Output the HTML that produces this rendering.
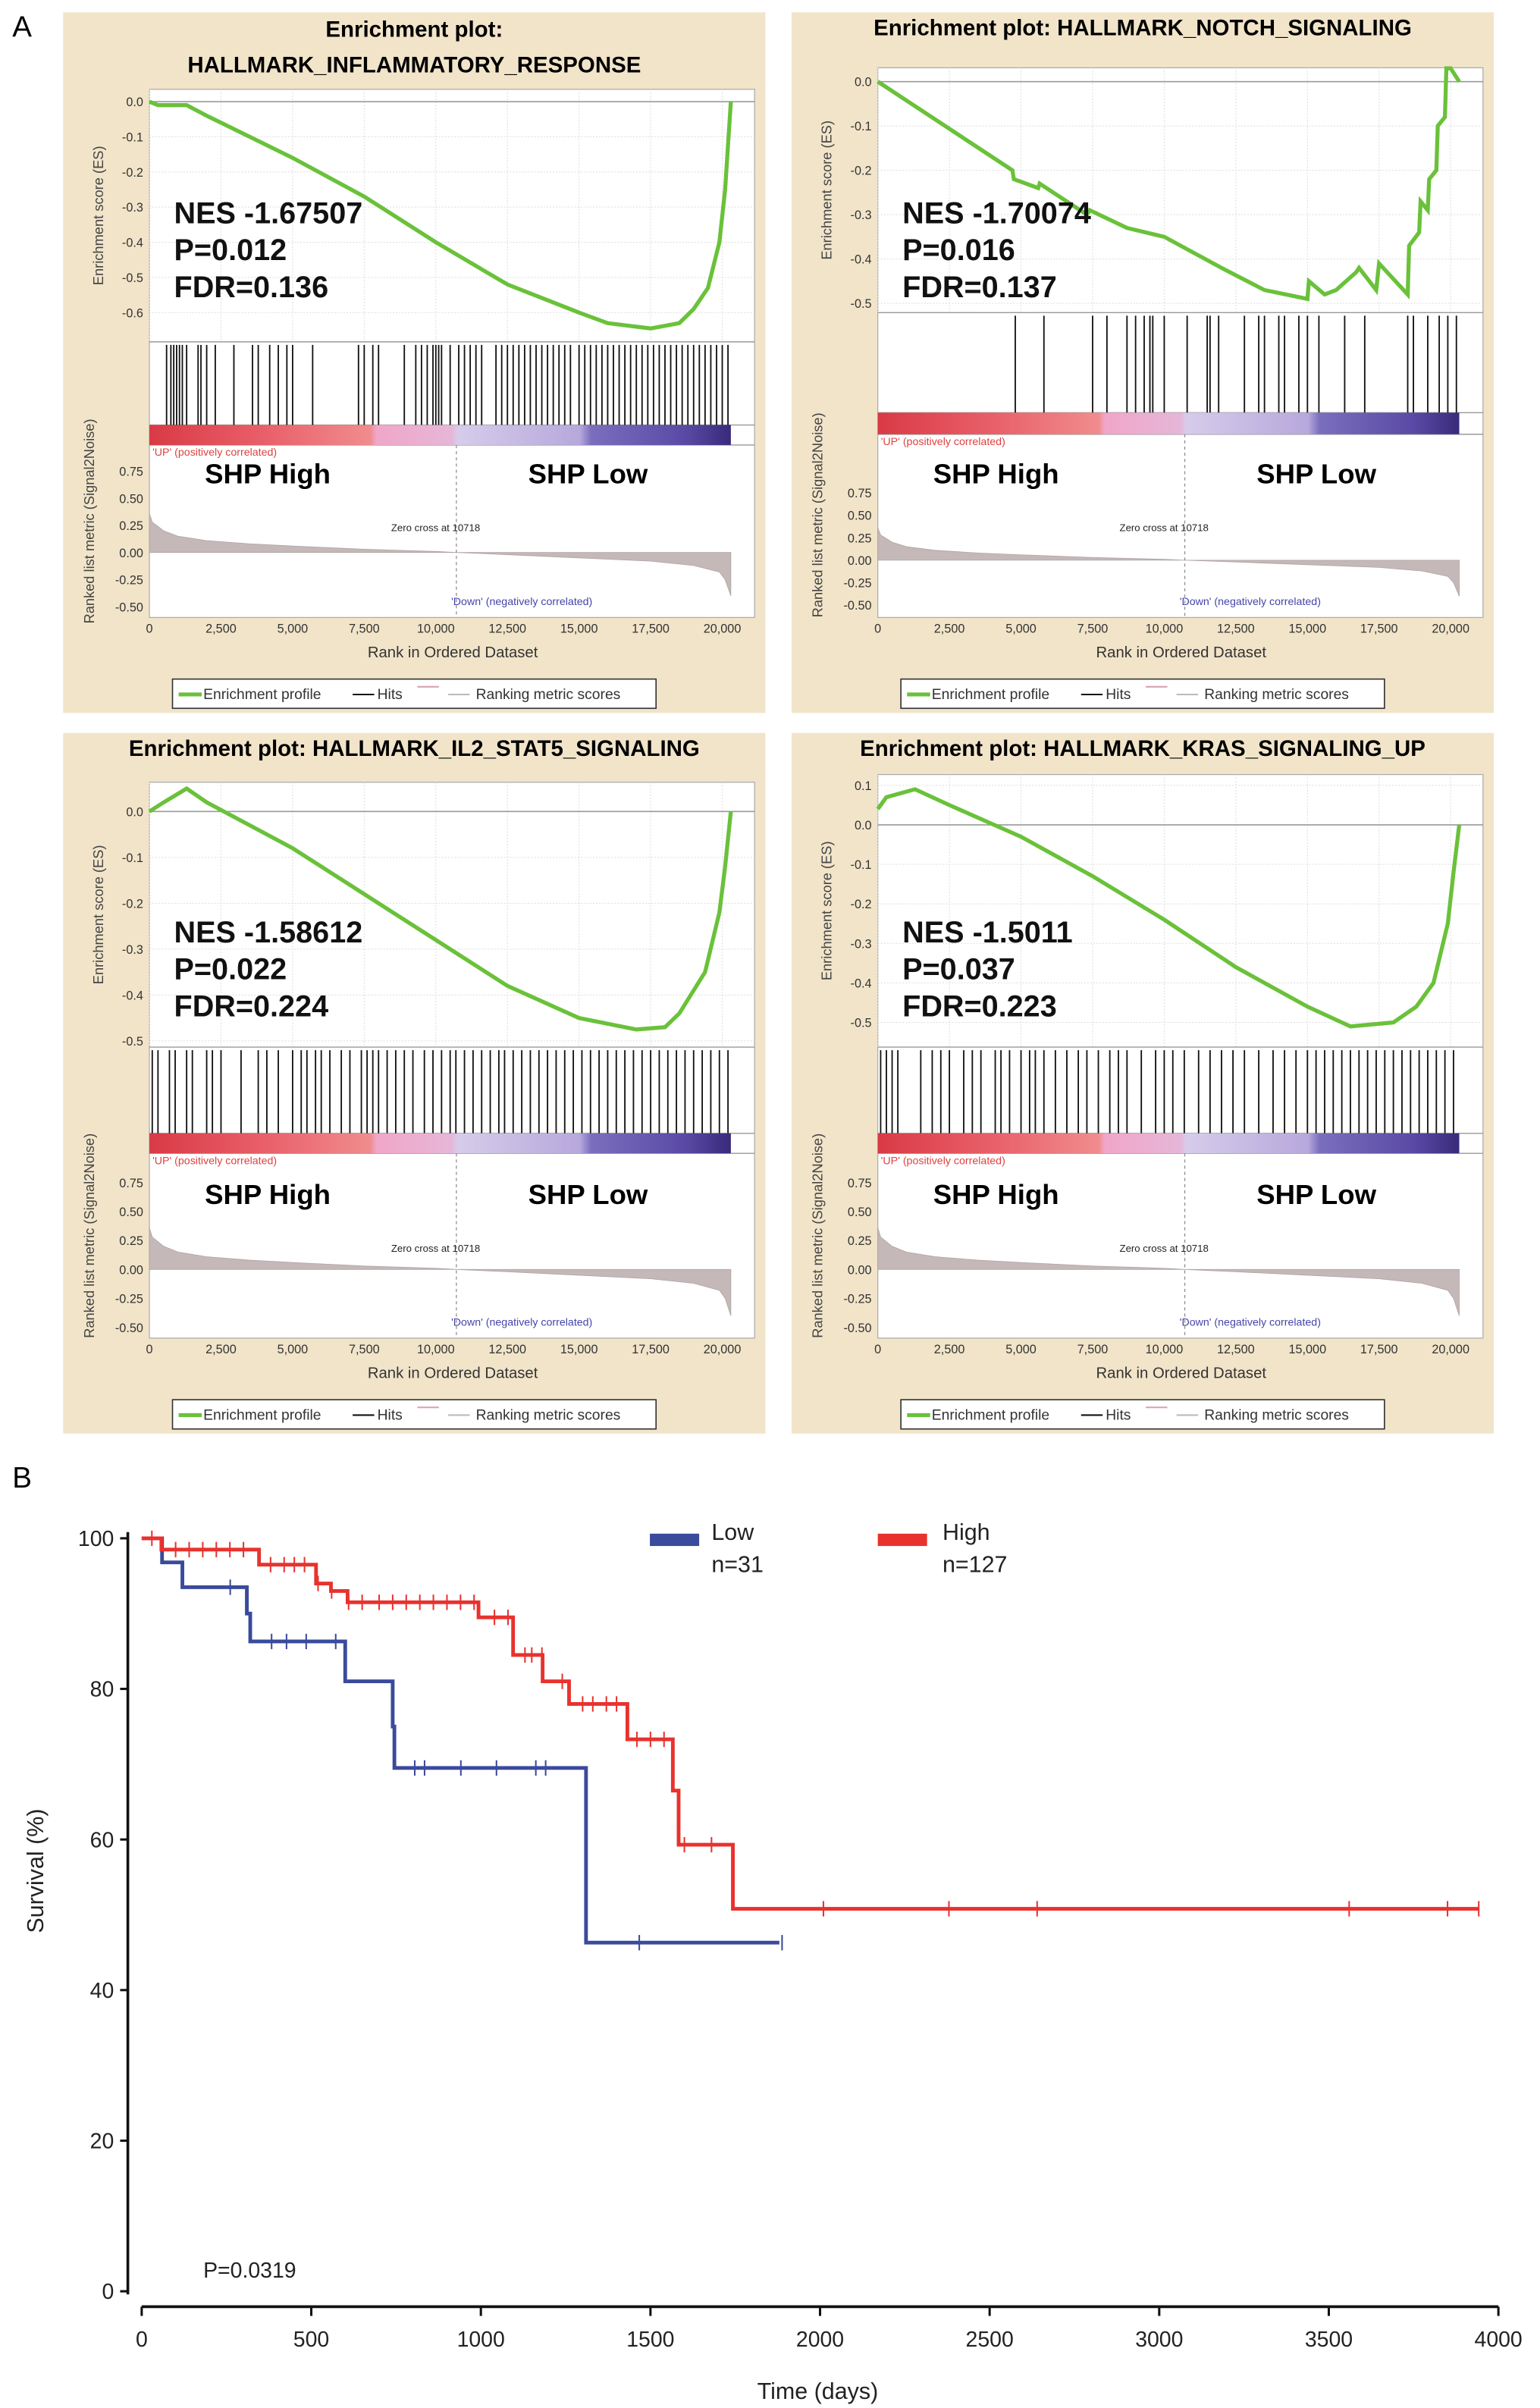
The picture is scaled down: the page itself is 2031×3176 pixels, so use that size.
<!DOCTYPE html>
<html><head><meta charset="utf-8"><style>
html,body{margin:0;padding:0;background:#fff}
svg{display:block}
text{font-family:"Liberation Sans",Arial,sans-serif}
</style></head><body>
<svg id="fig" width="2031" height="3176" viewBox="0 0 1000 1563.8" xmlns="http://www.w3.org/2000/svg">
<defs>
<linearGradient id="rankbar" x1="0" x2="1" y1="0" y2="0">
<stop offset="0" stop-color="#d93a45"/><stop offset="0.2" stop-color="#e9606a"/><stop offset="0.38" stop-color="#f08c8c"/>
<stop offset="0.39" stop-color="#f0a6c8"/><stop offset="0.52" stop-color="#e6b6d8"/><stop offset="0.53" stop-color="#d6ccea"/>
<stop offset="0.74" stop-color="#b7a8dc"/><stop offset="0.76" stop-color="#7a6ebd"/><stop offset="0.92" stop-color="#5a4aa6"/><stop offset="1" stop-color="#3a2a7a"/>
</linearGradient>
</defs>
<text x="8" y="24" font-size="19">A</text>
<text x="8" y="966" font-size="19">B</text>
<g id="gsea"></g>
<g id="km"></g>
</svg>
<script>
const NS="http://www.w3.org/2000/svg";
function mk(tag,attrs,parent,txt){const e=document.createElementNS(NS,tag);for(const k in attrs)e.setAttribute(k,attrs[k]);if(txt!==undefined)e.textContent=txt;parent.appendChild(e);return e;}

// ---------- GSEA data ----------
const titles1=["Enrichment plot:","HALLMARK_INFLAMMATORY_RESPONSE"];
const titles2=["Enrichment plot: HALLMARK_NOTCH_SIGNALING"];
const titles3=["Enrichment plot: HALLMARK_IL2_STAT5_SIGNALING"];
const titles4=["Enrichment plot: HALLMARK_KRAS_SIGNALING_UP"];
const stats1=["NES -1.67507","P=0.012","FDR=0.136"];
const stats2=["NES -1.70074","P=0.016","FDR=0.137"];
const stats3=["NES -1.58612","P=0.022","FDR=0.224"];
const stats4=["NES -1.5011","P=0.037","FDR=0.223"];
const esRank1=[0,300,600,1300,2000,3500,5000,7500,10000,12500,15000,16000,17000,17500,18500,19000,19500,19900,20100,20300];
const esVal1=[0,-0.01,-0.01,-0.01,-0.04,-0.1,-0.16,-0.27,-0.4,-0.52,-0.6,-0.63,-0.64,-0.645,-0.63,-0.59,-0.53,-0.4,-0.25,0];
const esRank2=[0,4700,4750,5600,5650,7300,7400,8700,10000,12000,13500,15000,15050,15600,16000,16700,16800,17400,17500,18500,18550,18900,18950,19200,19250,19500,19550,19800,19850,20000,20300];
const esVal2=[0,-0.2,-0.22,-0.24,-0.23,-0.3,-0.29,-0.33,-0.35,-0.42,-0.47,-0.49,-0.45,-0.48,-0.47,-0.43,-0.42,-0.47,-0.41,-0.48,-0.37,-0.34,-0.27,-0.29,-0.22,-0.2,-0.1,-0.08,0.03,0.03,0];
const esRank3=[0,500,1300,2000,3500,5000,7500,10000,12500,15000,17000,18000,18500,19400,19900,20100,20300];
const esVal3=[0,0.02,0.05,0.02,-0.03,-0.08,-0.18,-0.28,-0.38,-0.45,-0.475,-0.47,-0.44,-0.35,-0.22,-0.12,0];
const esRank4=[0,300,1300,2500,5000,7500,10000,12500,15000,16500,18000,18800,19400,19900,20100,20300];
const esVal4=[0.04,0.07,0.09,0.05,-0.03,-0.13,-0.24,-0.36,-0.46,-0.51,-0.5,-0.46,-0.4,-0.25,-0.12,0];
const hits1=[600,750,850,950,1050,1150,1300,1700,1800,2000,2300,2950,3600,3800,4200,4500,4800,5000,5700,7300,7500,7800,8000,8900,9300,9500,9700,9900,10000,10100,10200,10500,10800,11000,11200,11400,11600,12100,12300,12500,12700,12900,13100,13300,13500,13700,13900,14100,14300,14500,14700,15000,15200,15400,15600,15800,16000,16200,16400,16600,16800,17000,17200,17400,17600,17800,18000,18200,18400,18600,18800,19000,19200,19400,19600,19800,20000,20200];
const hits2=[4800,5800,7500,8000,8700,9000,9300,9500,9600,10000,10800,11500,11600,11900,12800,13300,13500,14000,14200,14700,15000,15400,16300,17000,18500,18700,19200,19600,19900,20200];
const hits3=[100,300,700,900,1300,1500,2000,2200,2500,3200,3800,4100,4500,5000,5300,5500,5800,6000,6300,6700,7000,7400,7600,7800,8000,8300,8600,8900,9200,9600,9900,10200,10500,10700,11000,11300,11600,11900,12200,12400,12700,13000,13300,13600,13900,14200,14500,14800,15100,15400,15700,16000,16300,16600,16900,17200,17500,17800,18100,18400,18700,19000,19300,19600,19900,20200];
const hits4=[100,300,500,700,1500,1900,2200,2500,3000,3300,3600,4100,4300,4600,5000,5300,5500,5800,6200,6600,7000,7300,7700,8100,8400,8700,9200,9700,10000,10300,10700,11200,11600,12000,12400,12800,13300,13800,14200,14600,15000,15300,15600,15900,16200,16500,16800,17100,17400,17700,18000,18300,18600,18900,19200,19500,19800,20100];
const metricRank=[0,100,500,1000,2000,3500,5000,7500,10000,10718,12500,15000,17500,19000,19900,20100,20300];
const metricVal=[0.36,0.28,0.2,0.15,0.11,0.08,0.06,0.03,0.01,0,-0.02,-0.05,-0.08,-0.12,-0.18,-0.25,-0.4];
const rankTicks=[0,2500,5000,7500,10000,12500,15000,17500,20000];
const rankTickLabels=["0","2,500","5,000","7,500","10,000","12,500","15,000","17,500","20,000"];
const metricTicks=[0.75,0.5,0.25,0,-0.25,-0.5];
const metricTickLabels=["0.75","0.50","0.25","0.00","-0.25","-0.50"];
const RANK_END=20300;

const panels=[
 {x:41,y:8,titles:titles1,stats:stats1,esR:esRank1,esV:esVal1,hits:hits1,ticks:[0,-0.1,-0.2,-0.3,-0.4,-0.5,-0.6],esTop:50,v0:0,y0:58,v1:-0.6,y1:195,esBot:214,barTop:268,barBot:281,mTop:298,mBot:386,statY:137},
 {x:514,y:8,titles:titles2,stats:stats2,esR:esRank2,esV:esVal2,hits:hits2,ticks:[0,-0.1,-0.2,-0.3,-0.4,-0.5],esTop:36,v0:0,y0:45,v1:-0.5,y1:189,esBot:195,barTop:260,barBot:274,mTop:312,mBot:385,statY:137},
 {x:41,y:476,titles:titles3,stats:stats3,esR:esRank3,esV:esVal3,hits:hits3,ticks:[0,-0.1,-0.2,-0.3,-0.4,-0.5],esTop:32,v0:0,y0:51,v1:-0.5,y1:200,esBot:204,barTop:260,barBot:273,mTop:292,mBot:386,statY:136},
 {x:514,y:476,titles:titles4,stats:stats4,esR:esRank4,esV:esVal4,hits:hits4,ticks:[0.1,0,-0.1,-0.2,-0.3,-0.4,-0.5],esTop:27,v0:0.1,y0:34,v1:-0.5,y1:188,esBot:204,barTop:260,barBot:273,mTop:292,mBot:386,statY:136}
];
const PX0=56,PX1=449,RX0=56,RX1=428;
function xr(r){return RX0+(RX1-RX0)*r/20000;}

const G=document.getElementById('gsea');
panels.forEach((p,i)=>{
 const g=mk('g',{transform:`translate(${p.x},${p.y})`},G);
 
 
 mk('rect',{x:0,y:0,width:456,height:455,fill:'#f1e4c9'},g);
 p.titles.forEach((t,k)=>{const te=mk('text',{x:228,y:p.titles.length==2?(16+k*23):15,'text-anchor':'middle','font-size':14.5,'font-weight':'bold'},g,t);
  });
 const ey=v=>p.y0+(p.y1-p.y0)*(v-p.v0)/(p.v1-p.v0);
 const my=v=>p.mTop+(p.mBot-p.mTop)*(0.75-v)/1.25;
 mk('rect',{x:PX0,y:p.esTop,width:PX1-PX0,height:393-p.esTop,fill:'#fff',stroke:'#aaa','stroke-width':0.6},g);
 rankTicks.forEach(r=>mk('line',{x1:xr(r),x2:xr(r),y1:p.esTop,y2:p.esBot,stroke:'#ddd','stroke-width':0.5,'stroke-dasharray':'1,1'},g));
 p.ticks.forEach(v=>{
  mk('line',{x1:PX0,x2:PX1,y1:ey(v),y2:ey(v),stroke:v===0?'#999':'#ddd','stroke-width':v===0?0.8:0.5,'stroke-dasharray':v===0?'':'1,1'},g);
  const t=mk('text',{x:PX0-4,y:ey(v)+3,'text-anchor':'end','font-size':8,fill:'#333'},g,v.toFixed(1));
  
 });
 mk('line',{x1:PX0,x2:PX1,y1:p.esBot,y2:p.esBot,stroke:'#999','stroke-width':0.7},g);
 mk('line',{x1:PX0,x2:PX1,y1:p.barTop,y2:p.barTop,stroke:'#999','stroke-width':0.7},g);
 mk('line',{x1:PX0,x2:PX1,y1:p.barBot,y2:p.barBot,stroke:'#999','stroke-width':0.7},g);
 const yt=mk('text',{x:0,y:0,transform:`translate(26,${(p.esTop+p.esBot)/2}) rotate(-90)`,'text-anchor':'middle','font-size':9,fill:'#444'},g,'Enrichment score (ES)');
 
 const pts=p.esR.map((r,k)=>xr(r).toFixed(2)+','+ey(p.esV[k]).toFixed(2)).join(' ');
 const pl=mk('polyline',{points:pts,fill:'none',stroke:'#6ac13a','stroke-width':2.6},g);
 
 p.stats.forEach((s,k)=>{const t=mk('text',{x:72,y:p.statY+k*24,'font-size':19.5,'font-weight':'bold',fill:'#111'},g,s);
  });
 p.hits.forEach(h=>{const l=mk('line',{x1:xr(h),x2:xr(h),y1:p.esBot+2,y2:p.barTop,stroke:'#111','stroke-width':0.9},g);
  });
 const rb=mk('rect',{x:xr(0),y:p.barTop,width:xr(RANK_END)-xr(0),height:p.barBot-p.barTop,fill:'url(#rankbar)'},g);
 
 mk('text',{x:58,y:p.barBot+7,'font-size':7,fill:'#e04040'},g,"'UP' (positively correlated)");
 const sh=mk('text',{x:92,y:306,'font-size':18,'font-weight':'bold'},g,'SHP High');
 
 const sl=mk('text',{x:302,y:306,'font-size':18,'font-weight':'bold'},g,'SHP Low');
 
 metricTicks.forEach((v,k)=>{const t=mk('text',{x:PX0-4,y:my(v)+3,'text-anchor':'end','font-size':8,fill:'#333'},g,metricTickLabels[k]);
  });
 const mt=mk('text',{x:0,y:0,transform:`translate(20,${(p.barTop+393)/2}) rotate(-90)`,'text-anchor':'middle','font-size':9,fill:'#444'},g,'Ranked list metric (Signal2Noise)');
 
 let d=`M${xr(0)},${my(0)} `+metricRank.map((r,k)=>`L${xr(r).toFixed(2)},${my(metricVal[k]).toFixed(2)}`).join(' ')+` L${xr(RANK_END)},${my(0)} Z`;
 const ar=mk('path',{d:d,fill:'#c4b8b8',stroke:'#b0a4a4','stroke-width':0.4},g);
 
 mk('line',{x1:xr(10718),x2:xr(10718),y1:p.barBot,y2:393,stroke:'#888','stroke-width':0.6,'stroke-dasharray':'2,2'},g);
 mk('text',{x:213,y:337,'font-size':6.5,fill:'#222'},g,'Zero cross at 10718');
 mk('text',{x:252,y:385,'font-size':7,fill:'#4444aa'},g,"'Down' (negatively correlated)");
 rankTicks.forEach((r,k)=>{const t=mk('text',{x:xr(r),y:403,'text-anchor':'middle','font-size':8,fill:'#333'},g,rankTickLabels[k]);
  });
 const xt=mk('text',{x:253,y:419,'text-anchor':'middle','font-size':10,fill:'#333'},g,'Rank in Ordered Dataset');
 
 const lg=mk('g',{},g);
 mk('rect',{x:71,y:433,width:314,height:19,fill:'#fff',stroke:'#333','stroke-width':0.8},lg);
 mk('line',{x1:75,x2:90,y1:443,y2:443,stroke:'#6ac13a','stroke-width':2.5},lg);
 mk('text',{x:91,y:446,'font-size':9.5,fill:'#333'},lg,'Enrichment profile');
 mk('line',{x1:188,x2:202,y1:443,y2:443,stroke:'#111','stroke-width':1},lg);
 mk('text',{x:204,y:446,'font-size':9.5,fill:'#333'},lg,'Hits');
 mk('line',{x1:230,x2:244,y1:438,y2:438,stroke:'#d8a0b8','stroke-width':1},lg);
 mk('line',{x1:250,x2:264,y1:443,y2:443,stroke:'#bbb','stroke-width':1},lg);
 mk('text',{x:268,y:446,'font-size':9.5,fill:'#333'},lg,'Ranking metric scores');
});

// ---------- KM data ----------
const kmXTicks=[0,500,1000,1500,2000,2500,3000,3500,4000];
const kmYTicks=[0,20,40,60,80,100];
const lowT=[0,60,120,310,320,600,740,745,1310,1880];
const lowS=[100,96.8,93.5,90,86.3,81,75,69.5,46.3,46.3];
const lowCensor=[261,383,427,485,572,805,834,941,1046,1162,1191,1467,1888];
const highT=[0,58,346,514,558,607,993,1095,1182,1260,1432,1566,1583,1743,3942];
const highS=[100,98.5,96.5,94,93,91.5,89.5,84.5,81,78,73.3,66.5,59.3,50.8,50.8];
const highCensor=[30,100,140,180,220,260,300,380,420,450,480,520,560,610,650,700,740,780,820,860,900,940,980,1040,1080,1130,1150,1180,1240,1300,1330,1370,1400,1460,1500,1540,1600,1680,2010,2380,2640,3560,3850,3942];

const K=document.getElementById('km');
const kx=t=>92+(973-92)*t/4000;
const ky=s=>1488-(1488-999)*s/100;
mk('line',{x1:83,x2:83,y1:995,y2:1490,stroke:'#111','stroke-width':1.8},K);
mk('line',{x1:92,x2:973,y1:1498,y2:1498,stroke:'#111','stroke-width':1.8},K);
kmYTicks.forEach(v=>{mk('line',{x1:78,x2:83,y1:ky(v),y2:ky(v),stroke:'#111','stroke-width':1.5},K);
 const t=mk('text',{x:74,y:ky(v)+5,'text-anchor':'end','font-size':14,fill:'#222'},K,String(v));
 });
kmXTicks.forEach(v=>{mk('line',{x1:kx(v),x2:kx(v),y1:1498,y2:1504,stroke:'#111','stroke-width':1.5},K);
 const t=mk('text',{x:kx(v),y:1524,'text-anchor':'middle','font-size':14,fill:'#222'},K,String(v));
 });
const kyt=mk('text',{x:0,y:0,transform:'translate(28,1215) rotate(-90)','text-anchor':'middle','font-size':15,fill:'#222'},K,'Survival (%)');

const kxt=mk('text',{x:531,y:1558,'text-anchor':'middle','font-size':15,fill:'#222'},K,'Time (days)');

const pv=mk('text',{x:132,y:1479,'font-size':14,fill:'#222'},K,'P=0.0319');

function stepPath(T,S){let d=`M${kx(T[0])},${ky(S[0])}`;for(let i=1;i<T.length;i++){d+=` H${kx(T[i]).toFixed(2)} V${ky(S[i]).toFixed(2)}`;}return d;}
function survAt(T,S,t){let s=S[0];for(let i=0;i<T.length;i++){if(T[i]<=t)s=S[i];}return s;}
const lowLine=mk('path',{d:stepPath(lowT,lowS),fill:'none',stroke:'#3a4a9c','stroke-width':2.4},K);

lowCensor.forEach(t=>{const y=ky(survAt(lowT,lowS,t));const c=mk('line',{x1:kx(t),x2:kx(t),y1:y-5,y2:y+5,stroke:'#3a4a9c','stroke-width':1},K);
 });
const highLine=mk('path',{d:stepPath(highT,highS),fill:'none',stroke:'#e8322e','stroke-width':2.4},K);

highCensor.forEach(t=>{const y=ky(survAt(highT,highS,t));const c=mk('line',{x1:kx(t),x2:kx(t),y1:y-5,y2:y+5,stroke:'#e8322e','stroke-width':1},K);
 });
const kl=mk('g',{},K);
mk('rect',{x:422,y:996,width:32,height:8,fill:'#3a4a9c'},kl);
mk('text',{x:462,y:1000,'font-size':15,fill:'#222'},kl,'Low');
mk('text',{x:462,y:1021,'font-size':15,fill:'#222'},kl,'n=31');
mk('rect',{x:570,y:996,width:32,height:8,fill:'#e8322e'},kl);
mk('text',{x:612,y:1000,'font-size':15,fill:'#222'},kl,'High');
mk('text',{x:612,y:1021,'font-size':15,fill:'#222'},kl,'n=127');
</script>
</body></html>
